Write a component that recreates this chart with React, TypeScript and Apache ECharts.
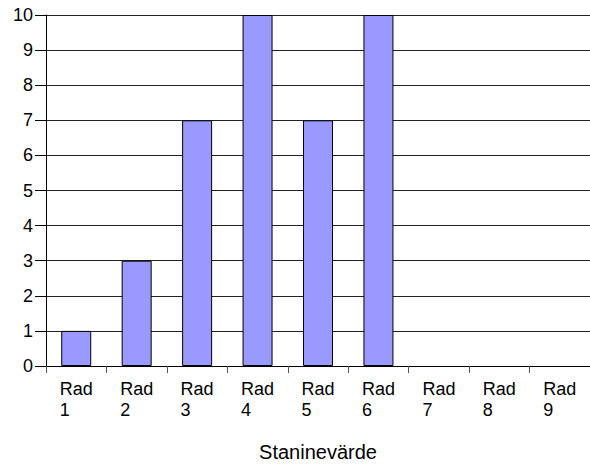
import React, { useEffect, useRef } from "react";
import * as echarts from "echarts";

const categories = ["1", "2", "3", "4", "5", "6", "7", "8", "9"];
const values = [1, 3, 7, 10, 7, 10, 0, 0, 0];
const axisTitle = "Staninevärde";

export default function App() {
  const ref = useRef<HTMLDivElement>(null);
  useEffect(() => {
    const chart = echarts.init(ref.current!, null, { renderer: "svg" });
    chart.setOption({
      animation: false,
      grid: { left: 46, top: 15, right: 0, bottom: 100, containLabel: false, outerBoundsMode: "none" },
      xAxis: {
        type: "category",
        data: categories,
        name: axisTitle,
        nameLocation: "middle",
        nameGap: 76,
        nameTextStyle: { fontFamily: "Liberation Sans", fontSize: 20, color: "#000" },
        axisLine: { lineStyle: { color: "#000", width: 1 } },
        axisTick: { show: true, length: 7, lineStyle: { color: "#555" }, alignWithLabel: false },
        axisLabel: {
          margin: 12,
          formatter: (v: string) => `{a|Rad}\n{a|${v}}`,
          rich: {
            a: { align: "left", fontFamily: "Liberation Sans", fontSize: 18, color: "#000", lineHeight: 21 },
          },
        },
      },
      yAxis: {
        type: "value",
        min: 0,
        max: 10,
        interval: 1,
        axisLine: { show: true, lineStyle: { color: "#000", width: 1 } },
        axisTick: { show: true, inside: false, length: 11, lineStyle: { color: "#000" } },
        axisLabel: { margin: 13, fontFamily: "Liberation Sans", fontSize: 18, color: "#000" },
        splitLine: { lineStyle: { color: "#222", width: 1 } },
      },
      series: [
        {
          type: "bar",
          data: values.map((v) => ({ value: v, itemStyle: { borderWidth: v === 0 ? 0 : 1 } })),
          barWidth: 30,
          itemStyle: { color: "#9999FF", borderColor: "#000", borderWidth: 1 },
        },
      ],
    });
    return () => chart.dispose();
  }, []);
  return (
    <div
      ref={ref}
      style={{ position: "fixed", left: 0, top: 0, width: 590, height: 466, background: "#fff" }}
    />
  );
}
